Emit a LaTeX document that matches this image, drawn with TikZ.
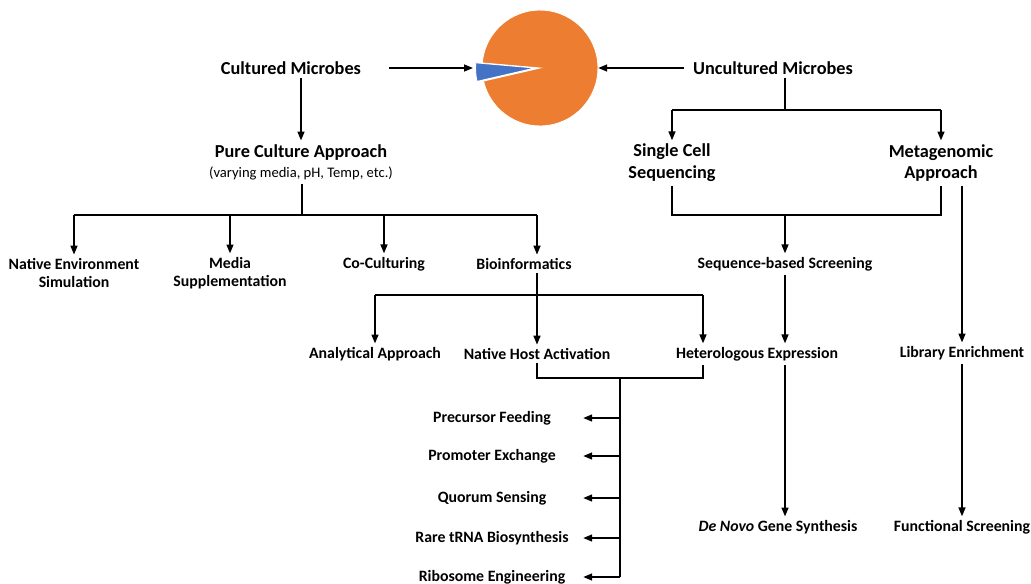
\documentclass[tikz,border=0pt]{standalone}
\usepackage{fontspec}
\setmainfont{Carlito}
\usetikzlibrary{arrows.meta}

\definecolor{pieorange}{HTML}{ED7D31}
\definecolor{pieblue}{HTML}{4472C4}

\begin{document}
\begin{tikzpicture}[x=0.02cm,y=-0.02cm,
  big/.style={font=\bfseries\fontsize{10.4}{12.5}\selectfont, align=center, inner sep=2pt},
  lbl/.style={font=\bfseries\fontsize{9}{10.3}\selectfont, align=center, inner sep=2pt},
  side/.style={lbl, minimum width=3.64cm},
  arr/.style={-{Triangle[length=5pt,width=4pt]}, line width=0.7pt},
  line/.style={line width=0.7pt}]
\useasboundingbox (0,0) rectangle (1031,583);

% pie
\node[circle, inner sep=0, minimum size=2.32cm] (pie) at (540,68) {};
\fill[pieorange, draw=white, line width=0.5pt] (pie.center) -- ++(193:1.16cm)
  arc[start angle=193, end angle=535, radius=1.16cm] -- cycle;
\fill[pieblue, draw=white, line width=0.5pt] ([xshift=-5*0.02cm]pie.center) -- ++(175:1.19cm)
  arc[start angle=175, end angle=193, radius=1.19cm] -- cycle;

% top level
\node[big] (cult) at (291,68) {Cultured Microbes};
\node[big] (uncult) at (773,68) {Uncultured Microbes};
\draw[arr] ([xshift=14pt]cult.east) -- ([xshift=-5pt]pie.west);
\draw[arr] ([xshift=-3pt]uncult.west) -- (pie.east);

% cultured side
\node[big] (pure) at (301,162) {Pure Culture Approach\\[-1pt]{\mdseries\fontsize{8.3}{10}\selectfont (varying media, pH, Temp, etc.)}};
\draw[arr] (cult.south -| pure.north) -- (pure.north);
\coordinate (pj) at (302,215);
\coordinate (pb) at (537,215);

\node[lbl] (nat) at (74,273) {Native Environment\\Simulation};
\node[lbl] (media) at (230,273) {Media\\Supplementation};
\node[lbl] (cocult) at (384,264) {Co-Culturing};
\node[lbl] (bio) at (524,264) {Bioinformatics};

\draw[line] (pure.south -| pj) -- (pj);
\draw[line] (pj -| nat) -- (pb);
\draw[arr] (pj -| nat) -- (nat.north);
\draw[arr] (pj -| media) -- (media.north);
\draw[arr] (pj -| cocult) -- (cocult.north);
\draw[arr] (pb) -- (pb |- bio.north);

% bioinformatics
\node[lbl] (ana) at (375,354) {Analytical Approach};
\node[lbl] (host) at (537,354) {Native Host Activation};
\node[lbl] (het) at (757,354) {Heterologous Expression};
\coordinate (bj) at (537,295);
\coordinate (hj) at (703,295);
\draw[arr] (bio.south -| bj) -- (host.north);
\draw[line] (bj -| ana) -- (hj);
\draw[arr] (bj -| ana) -- (ana.north);
\draw[arr] (hj) -- (hj |- het.north);

% activation methods
\node[side] (prec) at (492,418) {Precursor Feeding};
\node[side] (prom) at (492,456) {Promoter Exchange};
\node[side] (quor) at (492,498) {Quorum Sensing};
\node[side] (trna) at (492,538) {Rare tRNA Biosynthesis};
\node[side] (ribo) at (492,577) {Ribosome Engineering};
\coordinate (hb) at (620,378);
\draw[line] (host.south) |- (hb) -| (hj |- het.south);
\draw[line] (hb) -- (hb |- ribo);
\foreach \m in {prec,prom,quor,trna,ribo}
  \draw[arr] (hb |- \m) -- (\m.east);

% uncultured side
\node[big] (single) at (672,163) {Single Cell\\Sequencing};
\node[big] (meta) at (941,163) {Metagenomic\\Approach};
\coordinate (uj) at (785,110);
\draw[line] (uncult.south -| uj) -- (uj);
\draw[line] (uj -| single) -- (uj -| meta);
\draw[arr] (uj -| single) -- (single.north);
\draw[arr] (uj -| meta) -- (meta.north);

\node[lbl] (seq) at (785,264) {Sequence-based Screening};
\coordinate (sj) at (785,215);
\draw[line] (single.south) |- (sj) -| (meta.south);
\draw[arr] (sj) -- (seq.north);
\draw[arr] (seq.south) -- (seq.south |- het.north);

\node[lbl] (novo) at (778,527) {\textit{De Novo} Gene Synthesis};
\draw[arr] (het.south -| seq) -- (novo.north -| seq);

\node[lbl] (lib) at (962,353) {Library Enrichment};
\node[lbl] (func) at (962,527) {Functional Screening};
\draw[arr] (meta.south -| lib) -- (lib.north);
\draw[arr] (lib.south) -- (func.north);
\end{tikzpicture}
\end{document}
